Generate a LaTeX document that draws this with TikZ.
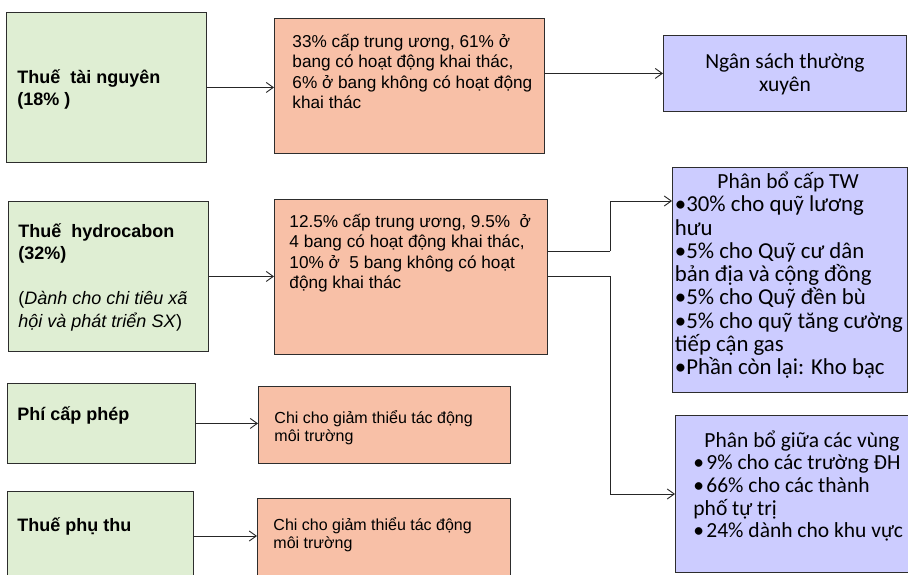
\documentclass[tikz,border=0pt]{standalone}
\usepackage{fontspec}
\setmainfont{Liberation Sans}
\newfontfamily\calib{Carlito}
\usetikzlibrary{arrows.meta}
\definecolor{gfill}{RGB}{223,238,211}
\definecolor{ofill}{RGB}{248,192,167}
\definecolor{bfill}{RGB}{204,204,255}
\definecolor{edgec}{RGB}{45,45,45}
% #1 width, #2 height, #3 first baseline offset, #4 alignment, #5 text
\newcommand{\bxc}[5]{\parbox[c][#2][t]{#1}{\vspace*{\dimexpr#3-\baselineskip\relax}\prevdepth=0pt\relax #4#5\par}}
\newcommand{\lft}[1]{\raggedright\leftskip=#1\relax\rightskip=-200pt plus 1fil\relax}
\newcommand{\sbul}{\leavevmode\makebox[13pt][l]{•}}
\begin{document}
\begin{tikzpicture}[x=1pt,y=-1pt,
  boxbase/.style={draw=edgec, line width=0.9pt, inner sep=0pt, anchor=north west},
  gbox/.style={boxbase, fill=gfill, font=\bfseries\fontsize{18pt}{22.5pt}\selectfont},
  obox/.style={boxbase, fill=ofill, font=\fontsize{17.2pt}{20.5pt}\selectfont},
  osbox/.style={boxbase, fill=ofill, font=\fontsize{16pt}{17.7pt}\selectfont},
  bbox/.style={boxbase, fill=bfill, font=\calib\fontsize{21.5pt}{23.5pt}\selectfont},
  ln/.style={line width=0.9pt, draw=black!85},
  arr/.style={ln, -{Straight Barb[length=7pt,width=10pt,line width=0.9pt]}}]
\useasboundingbox (0,0) rectangle (908,575);
\fill[white] (0,0) rectangle (908,575);

% green boxes
\node[gbox] (g1) at (6,12) {\bxc{200pt}{150pt}{71pt}{\lft{11pt}}{Thuế\ \ tài nguyên\\(18\% )}};
\node[gbox] (g2) at (8,201) {\bxc{200pt}{150pt}{36pt}{\lft{10pt}}{Thuế\ \ hydrocabon\\(32\%)\\[22.5pt]\mdseries(\textit{Dành cho chi tiêu xã}\\\textit{hội và phát triển SX})}};
\node[gbox] (g3) at (7,383) {\bxc{188pt}{80pt}{37pt}{\lft{10pt}}{Phí cấp phép}};
\node[gbox] (g4) at (7,491) {\bxc{186pt}{110pt}{40pt}{\lft{10pt}}{Thuế phụ thu}};

% orange boxes
\node[obox] (o1) at (274,18) {\bxc{270pt}{135pt}{29pt}{\lft{18pt}}{33\% cấp trung ương, 61\% ở\\bang có hoạt động khai thác,\\6\% ở bang không có hoạt động\\khai thác}};
\node[obox] (o2) at (274,199) {\bxc{273pt}{155pt}{28pt}{\lft{15pt}}{12.5\% cấp trung ương, 9.5\%\ \ ở\\4 bang có hoạt động khai thác,\\10\% ở\ \ 5 bang không có hoạt\\động khai thác}};
\node[osbox] (o3) at (258,386) {\bxc{252pt}{77pt}{37pt}{\lft{16pt}}{Chi cho giảm thiểu tác động\\môi trường}};
\node[osbox] (o4) at (257,498) {\bxc{253pt}{110pt}{32pt}{\lft{16pt}}{Chi cho giảm thiểu tác động\\môi trường}};

% blue boxes
\node[bbox] (b1) at (663,35) {\bxc{243pt}{76pt}{33pt}{\centering}{Ngân sách thường\\xuyên}};
\node[bbox, font=\calib\fontsize{22.8pt}{23.3pt}\selectfont] (b2) at (672,167) {\bxc{235pt}{225pt}{21pt}{\lft{2.5pt}}{{\fontsize{21.5pt}{23.3pt}\selectfont\hspace*{42.5pt}Phân bổ cấp TW}\\•30\% cho quỹ lương\\hưu\\•5\% cho Quỹ cư dân\\bản địa và cộng đồng\\•5\% cho Quỹ đền bù\\•5\% cho quỹ tăng cường\\tiếp cận gas\\•Phần còn lại: Kho bạc}};
\node[bbox, font=\calib\fontsize{21.5pt}{22.7pt}\selectfont] (b3) at (675,415) {\bxc{232.5pt}{157pt}{31.7pt}{\lft{18pt}}{\hspace*{11pt}Phân bổ giữa các vùng\\\sbul 9\% cho các trường ĐH\\\sbul 66\% cho các thành\\phố tự trị\\\sbul 24\% dành cho khu vực}};

% connectors
\draw[arr] (g1.east) -- (g1.east -| o1.west);
\draw[arr] (b1.west -| o1.east) -- (b1.west);
\draw[arr] (g2.east) -- (g2.east -| o2.west);
\draw[arr] (g3.east) -- (g3.east -| o3.west);
\draw[arr] ([yshift=-45pt]g4.north east) coordinate (g4a) -- (g4a -| o4.west);

\coordinate (jx) at (610,0);
\draw[ln] ([yshift=-52pt]o2.north east) coordinate (o2a) -- (o2a -| jx);
\draw[arr] (o2a -| jx) |- ([yshift=-34pt]b2.north west);
\draw[arr] ([yshift=-77pt]o2.north east) coordinate (o2b) -- (o2b -| jx) |- ([yshift=-79pt]b3.north west);
\end{tikzpicture}
\end{document}
